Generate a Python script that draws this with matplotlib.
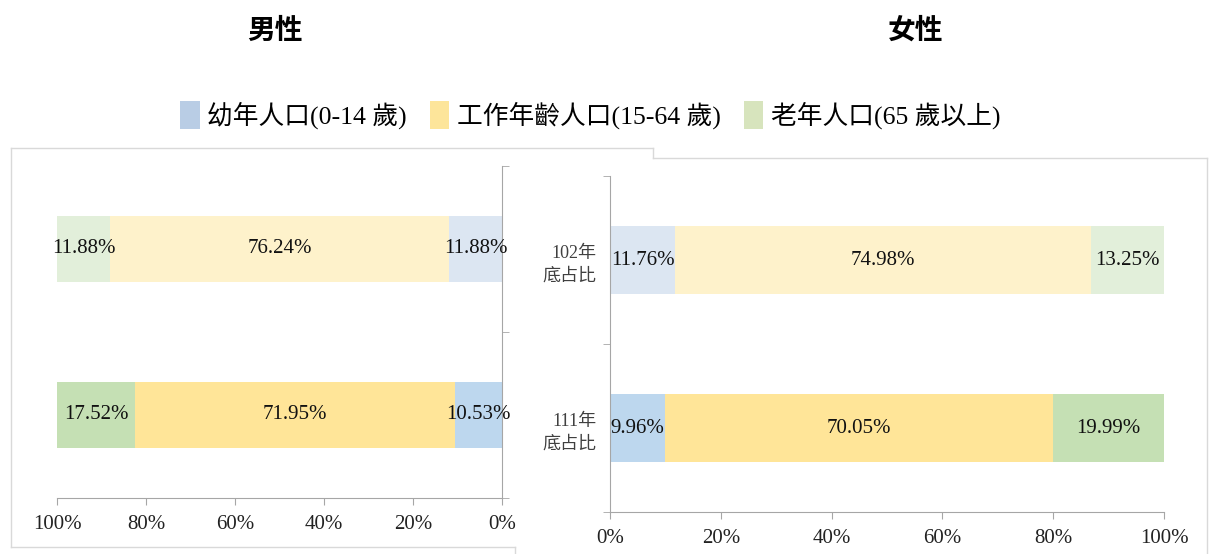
import numpy as np
import matplotlib.pyplot as plt
from matplotlib.patches import Patch
from matplotlib.lines import Line2D

plt.rcParams['font.family'] = ['Liberation Serif', 'Noto Sans CJK TC']

# data (percent)
years = ['102年\n底占比', '111年\n底占比']
groups = ['幼年人口(0-14 歲)', '工作年齡人口(15-64 歲)', '老年人口(65 歲以上)']
male_young = [11.88, 10.53]
male_work = [76.24, 71.95]
male_old = [11.88, 17.52]
female_young = [11.76, 9.96]
female_work = [74.98, 70.05]
female_old = [13.25, 19.99]
xticks = [0, 20, 40, 60, 80, 100]

# lighter shades for 102, stronger for 111
light = ['#dce6f2', '#fef2cb', '#e2efda']
dark = ['#bdd7ee', '#ffe598', '#c5e0b4']
legend_cols = ['#b9cde5', '#fde59a', '#d7e4bd']

fig = plt.figure(figsize=(12.1, 5.54), dpi=100)

axL = fig.add_axes([0.0471, 0.1011, 0.3678, 0.5993])
axR = fig.add_axes([0.5041, 0.0758, 0.4579, 0.6065])

def draw(ax, young, work, old):
    y = np.arange(len(young))
    left = np.zeros(len(young))
    for k, vals in enumerate((young, work, old)):
        cols = [light[k], dark[k]]
        ax.barh(y, vals, left=left, height=0.40, color=cols, edgecolor='none')
        for i, v in enumerate(vals):
            ax.text(left[i] + v / 2, y[i], f'{v:.2f}%', ha='center', va='center',
                    fontsize=15, color='#111111')
        left = left + np.array(vals)
    ax.set_xlim(0, 100)
    ax.set_ylim(1.5, -0.5)
    ax.set_xticks(xticks)
    ax.set_xticklabels([f'{t}%' for t in xticks], fontsize=15, color='#222222')
    ax.set_yticks([-0.5, 0.5, 1.5], minor=True)
    ax.tick_params(axis='y', which='major', length=0)
    ax.tick_params(axis='y', which='minor', length=5, color='#a6a6a6')
    ax.tick_params(axis='x', length=5, color='#a6a6a6', pad=7)
    ax.spines['top'].set_visible(False)
    for s in ax.spines.values():
        s.set_color('#a6a6a6')

draw(axL, male_young, male_work, male_old)
axL.invert_xaxis()
axL.spines['left'].set_visible(False)
axL.yaxis.tick_right()
axL.set_yticks([0, 1])
axL.set_yticklabels([])

draw(axR, female_young, female_work, female_old)
axR.spines['right'].set_visible(False)
axR.set_yticks([0, 1])
axR.set_yticklabels(years, fontsize=13, color='#404040', linespacing=1.4)
axR.tick_params(axis='y', which='major', pad=10)

fig.text(0.227, 0.945, '男性', ha='center', va='center', fontsize=20, fontweight='bold',
         family='Noto Sans CJK TC')
fig.text(0.757, 0.945, '女性', ha='center', va='center', fontsize=20, fontweight='bold',
         family='Noto Sans CJK TC')

handles = [Patch(facecolor=c, edgecolor='none') for c in legend_cols]
fig.legend(handles, groups, loc='center', bbox_to_anchor=(0.488, 0.792), ncol=3,
           frameon=False, fontsize=18.5, handlelength=0.75, handleheight=1.25,
           handletextpad=0.3, columnspacing=0.9)

# chart frames
gc = '#d9d9d9'
W, H = 1210.0, 554.0
def seg(x0, y0, x1, y1):
    fig.add_artist(Line2D([x0 / W, x1 / W], [1 - y0 / H, 1 - y1 / H], color=gc, lw=1))
seg(11, 148, 653, 148)
seg(11, 148, 11, 547)
seg(11, 547, 515, 547)
seg(515, 547, 515, 554)
seg(653, 148, 653, 158)
seg(653, 158, 1207, 158)
seg(1207, 158, 1207, 554)

fig.savefig('out.png', dpi=100)
